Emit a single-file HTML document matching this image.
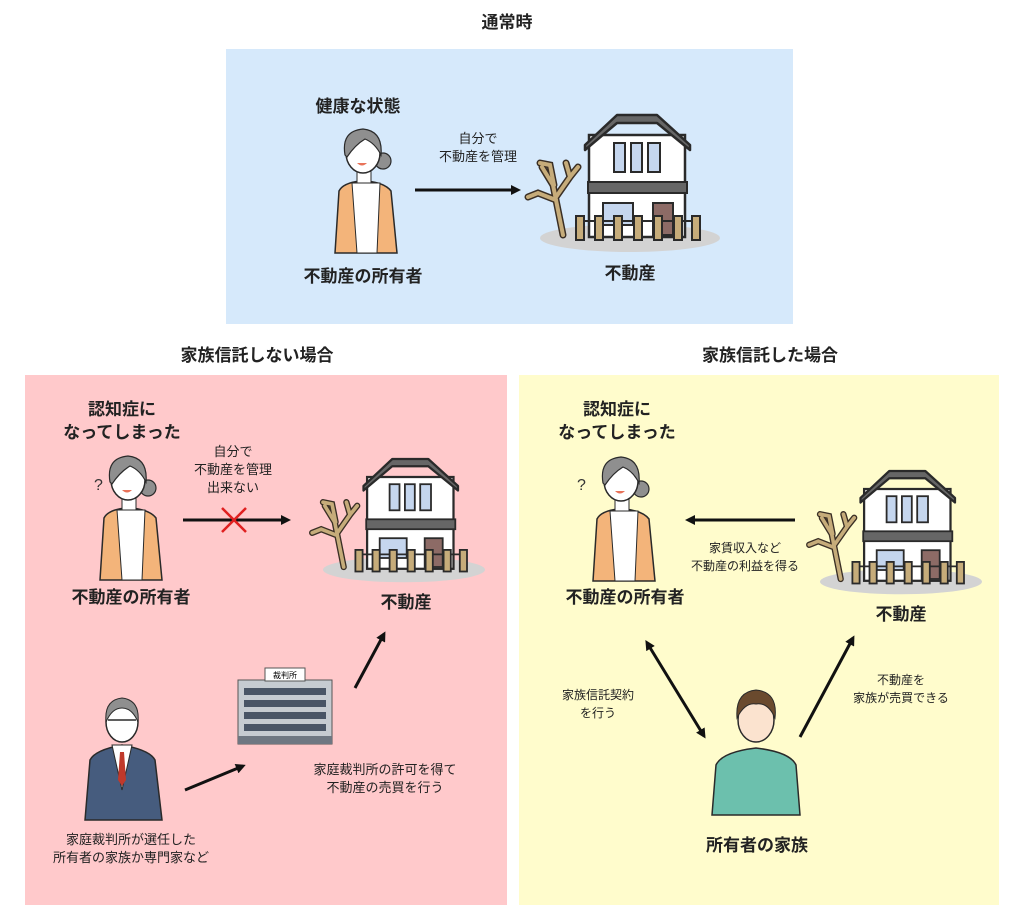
<!DOCTYPE html>
<html><head><meta charset="utf-8"><style>
html,body{margin:0;padding:0;background:#fff;}
body{width:1024px;height:923px;position:relative;overflow:hidden;font-family:"Liberation Sans","Noto Sans CJK JP",sans-serif;color:#222;}
.t{position:absolute;transform:translateX(-50%);white-space:nowrap;text-align:center;}
.b{font-weight:bold;font-size:17px;line-height:23px;}
.s{font-size:13px;line-height:18px;}
</style></head><body>
<svg width="1024" height="923" style="position:absolute;left:0;top:0">
<defs>
<symbol id="house" overflow="visible">
 <ellipse cx="110" cy="133" rx="90" ry="14" fill="#d3d3d3"/>
 <path d="M43 130 L36 95 L33 80 L22 62 M36 95 L18 88 L8 92 M34 80 L30 60 L20 58 M36 92 L50 72 L58 62 M50 72 L46 58" stroke="#3a2f25" stroke-width="7" fill="none" stroke-linecap="round"/>
 <path d="M43 130 L36 95 L33 80 L22 62 M36 95 L18 88 L8 92 M34 80 L30 60 L20 58 M36 92 L50 72 L58 62 M50 72 L46 58" stroke="#c6ac7a" stroke-width="4" fill="none" stroke-linecap="round"/>
 <rect x="69" y="30" width="96" height="102" fill="#fff" stroke="#2a2a2a" stroke-width="2.5"/>
 <path d="M65 40 L97 10 L137 10 L170 40 L170 45 L137 18 L97 18 L65 45 Z" fill="#666" stroke="#2a2a2a" stroke-width="2.5" stroke-linejoin="round"/>
 <g fill="#c5d6ee" stroke="#2a2a2a" stroke-width="2"><rect x="94" y="38" width="11" height="29"/><rect x="111" y="38" width="11" height="29"/><rect x="128" y="38" width="12" height="29"/><rect x="83" y="98" width="30" height="22"/></g>
 <rect x="68" y="77" width="99" height="11" fill="#666" stroke="#2a2a2a" stroke-width="2"/>
 <rect x="133" y="98" width="20" height="32" fill="#8d6b66" stroke="#2a2a2a" stroke-width="2"/>
 <path d="M59 116 L177 116" stroke="#2a2a2a" stroke-width="2"/>
 <g fill="#c6ac7a" stroke="#2a2a2a" stroke-width="2"><rect x="56" y="111" width="8" height="24"/><rect x="75" y="111" width="8" height="24"/><rect x="94" y="111" width="8" height="24"/><rect x="114" y="111" width="8" height="24"/><rect x="134" y="111" width="8" height="24"/><rect x="154" y="111" width="8" height="24"/><rect x="172" y="111" width="8" height="24"/></g>
</symbol>
<symbol id="woman" overflow="visible">
 <path d="M30 140 L34 78 Q38 70 55 68 L62 68 Q80 70 86 78 L92 140 Z" fill="#f3b47a" stroke="#2a2a2a" stroke-width="1.5"/>
 <path d="M47 70 L52 140 L72 140 L75 70 Z" fill="#fff" stroke="#2a2a2a" stroke-width="1"/>
 <rect x="52" y="56" width="14" height="14" fill="#fff" stroke="#2a2a2a" stroke-width="1"/>
 <circle cx="78" cy="48" r="8" fill="#8f8f8f" stroke="#2a2a2a" stroke-width="1.2"/>
 <ellipse cx="58" cy="40" rx="17" ry="20" fill="#fff" stroke="#2a2a2a" stroke-width="1.5"/>
 <path d="M40 42 Q36 18 58 16 Q78 18 76 42 Q70 30 60 26 Q50 32 42 44 Z" fill="#8f8f8f" stroke="#2a2a2a" stroke-width="1.2"/>
 <path d="M52 50 Q57 55 62 50 Z" fill="#e8735a"/>
</symbol>
<marker id="ah" markerWidth="10" markerHeight="10" refX="7" refY="5" orient="auto" markerUnits="userSpaceOnUse"><path d="M0 0 L10 5 L0 10 Z" fill="#111"/></marker>
<marker id="ahs" markerWidth="10" markerHeight="10" refX="3" refY="5" orient="auto-start-reverse" markerUnits="userSpaceOnUse"><path d="M0 0 L10 5 L0 10 Z" fill="#111"/></marker>
</defs>
<rect x="226" y="49" width="567" height="275" fill="#d6e9fb"/>
<rect x="25" y="375" width="482" height="530" fill="#ffc9cb"/>
<rect x="519" y="375" width="480" height="530" fill="#fffccc"/>

<use href="#house" x="520" y="105"/>
<use href="#house" transform="translate(305,450) scale(0.9)"/>
<use href="#house" transform="translate(802,462) scale(0.9)"/>
<use href="#woman" x="305" y="113"/>
<use href="#woman" x="70" y="440"/>
<use href="#woman" x="563" y="441"/>
<text x="94" y="490" font-size="16" fill="#333" font-family="Liberation Sans">?</text>
<text x="577" y="490" font-size="16" fill="#333" font-family="Liberation Sans">?</text>

<path d="M85 820 L90 760 Q95 750 122 745 Q150 750 155 760 L162 820 Z" fill="#465c7e" stroke="#2a2a2a" stroke-width="1.5"/>
<path d="M112 745 L122 790 L132 745 Z" fill="#fff" stroke="#2a2a2a"/>
<path d="M120 752 L124 752 L126 780 L122 786 L118 780 Z" fill="#c0392b"/>
<ellipse cx="122" cy="722" rx="16" ry="20" fill="#fff" stroke="#2a2a2a" stroke-width="1.5"/>
<path d="M106 722 Q104 700 122 698 Q140 700 138 722 Q132 708 122 708 Q112 708 106 722 Z" fill="#8f8f8f" stroke="#2a2a2a"/>
<path d="M108 720 L136 720" stroke="#2a2a2a" stroke-width="1.5"/>
<rect x="238" y="680" width="94" height="64" fill="#c6cbd1" stroke="#555" stroke-width="1"/>
<rect x="265" y="668" width="40" height="13" fill="#fff" stroke="#555"/>
<text x="285" y="678" font-size="8" text-anchor="middle" font-family="Liberation Sans,Noto Sans CJK JP,sans-serif">裁判所</text>
<g fill="#4a5566">
<rect x="244" y="688" width="82" height="7"/><rect x="244" y="700" width="82" height="7"/><rect x="244" y="712" width="82" height="7"/><rect x="244" y="724" width="82" height="7"/></g>
<rect x="238" y="736" width="94" height="8" fill="#6f7782"/>
<path d="M712 815 L716 765 Q722 752 756 748 Q790 752 796 765 L800 815 Z" fill="#6cc0ad" stroke="#2a2a2a" stroke-width="1.5"/>
<ellipse cx="756" cy="720" rx="18" ry="22" fill="#fbe3cf" stroke="#2a2a2a" stroke-width="1.5"/>
<path d="M737 718 Q735 692 756 690 Q778 692 775 718 Q768 702 756 704 Q745 702 737 718 Z" fill="#6a4a2e" stroke="#2a2a2a"/>

<g stroke="#111" stroke-width="3" fill="none">
<line x1="415" y1="190" x2="518" y2="190" marker-end="url(#ah)"/>
<line x1="183" y1="520" x2="288" y2="520" marker-end="url(#ah)"/>
<line x1="185" y1="790" x2="243" y2="766" marker-end="url(#ah)"/>
<line x1="355" y1="688" x2="384" y2="634" marker-end="url(#ah)"/>
<line x1="795" y1="520" x2="688" y2="520" marker-end="url(#ah)"/>
<line x1="649" y1="646" x2="704" y2="736" marker-start="url(#ahs)" marker-end="url(#ah)"/>
<line x1="800" y1="737" x2="853" y2="638" marker-end="url(#ah)"/>
</g>
<path d="M222 508 L246 532 M246 508 L222 532" stroke="#e02020" stroke-width="2.5"/>
</svg>

<div class="t b" style="left:507px;top:11px">通常時</div>
<div class="t b" style="left:257px;top:344px">家族信託しない場合</div>
<div class="t b" style="left:770px;top:344px">家族信託した場合</div>

<div class="t b" style="left:358px;top:95px">健康な状態</div>
<div class="t s" style="left:478px;top:130px">自分で<br>不動産を管理</div>
<div class="t b" style="left:363px;top:265px">不動産の所有者</div>
<div class="t b" style="left:630px;top:262px">不動産</div>

<div class="t b" style="left:122px;top:398px">認知症に<br>なってしまった</div>
<div class="t s" style="left:233px;top:443px">自分で<br>不動産を管理<br>出来ない</div>
<div class="t b" style="left:131px;top:586px">不動産の所有者</div>
<div class="t b" style="left:406px;top:591px">不動産</div>
<div class="t s" style="left:385px;top:761px">家庭裁判所の許可を得て<br>不動産の売買を行う</div>
<div class="t s" style="left:131px;top:831px">家庭裁判所が選任した<br>所有者の家族か専門家など</div>

<div class="t b" style="left:617px;top:398px">認知症に<br>なってしまった</div>
<div class="t b" style="left:625px;top:586px">不動産の所有者</div>
<div class="t s" style="left:745px;top:539px;font-size:12px">家賃収入など<br>不動産の利益を得る</div>
<div class="t b" style="left:901px;top:603px">不動産</div>
<div class="t s" style="left:598px;top:686px;font-size:12px">家族信託契約<br>を行う</div>
<div class="t s" style="left:901px;top:671px;font-size:12px">不動産を<br>家族が売買できる</div>
<div class="t b" style="left:757px;top:834px">所有者の家族</div>
</body></html>
